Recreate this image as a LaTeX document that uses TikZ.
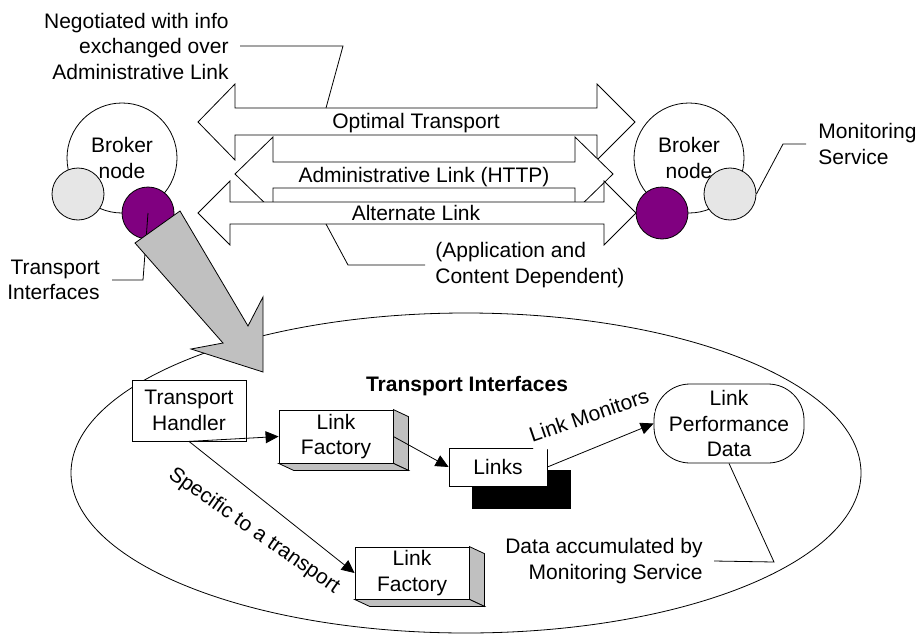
\documentclass[tikz,border=0pt]{standalone}
\usepackage{fontspec}
\setmainfont{Liberation Sans}
\usetikzlibrary{arrows.meta}
\definecolor{purp}{HTML}{800080}
\definecolor{lgray}{HTML}{E6E6E6}
\definecolor{mgray}{HTML}{C0C0C0}
\begin{document}
\begin{tikzpicture}[x=1pt,y=-1pt,line width=0.8pt,
  every node/.style={font=\fontsize{21}{25.5}\selectfont, inner sep=0pt},
  box/.style={draw, fill=white, align=center},
  blk/.style={draw, fill=white, line join=miter},
  arr/.style={-{Triangle[length=13pt,width=12pt]}},
  big/.style={circle, draw, fill=white, minimum size=110pt, align=center},
  small/.style={circle, draw, minimum size=52pt}]
\useasboundingbox (0,0) rectangle (917,634);

% broker nodes
\node[big] (bL) at (122,158) {Broker\\node};
\node[small, fill=lgray] (gL) at (78,194) {};
\node[small, fill=purp] (pL) at (148,213) {};
\node[big] (bR) at (689,158) {Broker\\node};
\node[small, fill=purp] (pR) at (662,213) {};
\node[small, fill=lgray] (gR) at (730,194) {};

% double block arrows
\draw[blk] (198,122) -- (235,84) -- (235,108) -- (597,108) -- (597,84) -- (635,122)
  -- (597,160) -- (597,135) -- (235,135) -- (235,160) -- cycle;
\node[anchor=base] (opt) at (416,128) {Optimal Transport};
\draw[blk] (235,174) -- (273,137) -- (273,162) -- (575,162) -- (575,137) -- (613,174)
  -- (575,211) -- (575,188) -- (273,188) -- (273,211) -- cycle;
\node[anchor=base] (adm) at (424,182) {Administrative Link (HTTP)};
\draw[blk] (198,213) -- (230,181) -- (230,202) -- (604,202) -- (604,181) -- (636,213)
  -- (604,245) -- (604,224) -- (230,224) -- (230,245) -- cycle;
\node[anchor=base] (alt) at (416,220) {Alternate Link};

% annotations top
\node[align=right, anchor=east, inner xsep=11pt] (neg) at (240,46)
  {Negotiated with info\\exchanged over\\Administrative Link};
\coordinate (negEnd) at (326,108);
\draw (neg.east) -- (343,46) -- (negEnd);
\node[align=left, anchor=west, inner xsep=10pt] (app) at (425,265)
  {(Application and\\Content Dependent)};
\coordinate (appStart) at (326,224);
\draw (appStart) -- (348,265) -- (app.west);
\node[align=left, anchor=west, inner xsep=12pt] (mon) at (806,144) {Monitoring\\Service};
\draw (gR.east) -- (783,144) -- (mon.west);

% container ellipse
\draw (466,473) ellipse [x radius=395pt, y radius=160pt];

% left transport interfaces label
\node[align=right, anchor=east, inner xsep=12pt] (tiL) at (112,280) {Transport\\Interfaces};
\draw (pL.center) -- (143,280) -- (tiL.east);

% big grey arrow
\draw[fill=mgray, line join=miter] (135,243) -- (180,211) -- (248,326) -- (263,297)
  -- (263,372) -- (191,349) -- (223,343) -- cycle;

% inner content
\node[font=\fontsize{21}{25.5}\selectfont\bfseries, anchor=base] (tib) at (467,391) {Transport Interfaces};
\node[box, minimum width=114pt, minimum height=61pt] (th) at (189,410.5) {Transport\\Handler};

\node[box, minimum width=114pt, minimum height=53pt] (lf1) at (336,436.5) {Link\\Factory};
\draw[fill=mgray] (lf1.north east) -- ([shift={(15,7)}]lf1.north east) -- ([shift={(15,7)}]lf1.south east) -- (lf1.south east) -- cycle;
\draw[fill=mgray] (lf1.south west) -- ([shift={(15,7)}]lf1.south west) -- ([shift={(15,7)}]lf1.south east) -- (lf1.south east) -- cycle;

\node[box, minimum width=114pt, minimum height=52pt] (lf2) at (412,573) {Link\\Factory};
\draw[fill=mgray] (lf2.north east) -- ([shift={(15,7)}]lf2.north east) -- ([shift={(15,7)}]lf2.south east) -- (lf2.south east) -- cycle;
\draw[fill=mgray] (lf2.south west) -- ([shift={(15,7)}]lf2.south west) -- ([shift={(15,7)}]lf2.south east) -- (lf2.south east) -- cycle;

\fill[black] (472,470) rectangle (571,509);
\node[box, minimum width=98pt, minimum height=38pt] (links) at (498,467) {Links};

\node[draw, fill=white, rounded corners=36pt, minimum width=150pt, minimum height=79pt, align=center]
  (lpd) at (729,423.5) {Link\\Performance\\Data};

\node[rotate=19, anchor=base west, fill=white, inner xsep=1pt, inner ysep=11pt] (lmon) at (531,443) {Link Monitors};
\draw[arr] (th.south) -- (lf1.west);
\draw[arr] (th.south) -- (lf2.west);
\node[rotate=-35] (spec) at (254,531) {Specific to a transport};
\draw[arr] (lf1.east) -- (links.west);
\draw[arr] (links.east) -- (lpd.west);

\node[align=right, anchor=east, inner xsep=11pt] (dat) at (714,561) {Data accumulated by\\Monitoring Service};
\draw (lpd.south) -- (774,562) -- (dat.east);
\end{tikzpicture}
\end{document}
